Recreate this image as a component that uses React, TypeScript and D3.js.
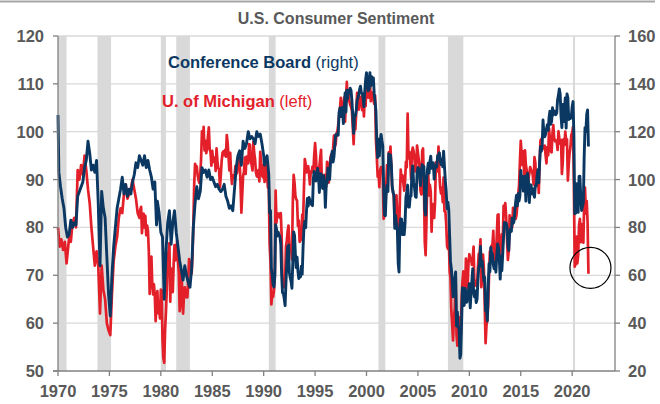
import React from "react";
import * as d3 from "d3";

// ---------- DATA ----------
const leftTicks = [50, 60, 70, 80, 90, 100, 110, 120];
const rightTicks = [20, 40, 60, 80, 100, 120, 140, 160];
const yearTicks = [1970, 1975, 1980, 1985, 1990, 1995, 2000, 2005, 2010, 2015, 2020];

const recessions: [string, string][] = [
  ["1969-12", "1970-11"], ["1973-11", "1975-03"], ["1980-01", "1980-07"], ["1981-07", "1982-11"],
  ["1990-07", "1991-03"], ["2001-03", "2001-11"], ["2007-12", "2009-06"], ["2020-02", "2020-04"],
];

// U. of Michigan (left axis), early survey readings
const michiganEarly: [string, number][] = [
  ["1970-01", 80], ["1970-03", 76], ["1970-05", 77.5], ["1970-07", 75.3], ["1970-09", 77], ["1970-11", 72.5],
  ["1971-02", 78], ["1971-04", 77], ["1971-06", 81], ["1971-08", 82], ["1971-10", 80], ["1971-12", 92],
  ["1972-02", 90], ["1972-04", 93], ["1972-06", 91], ["1972-08", 95], ["1972-10", 92], ["1972-12", 88],
  ["1973-02", 85], ["1973-04", 80], ["1973-06", 76], ["1973-08", 72], ["1973-10", 75], ["1973-12", 72],
  ["1974-02", 62], ["1974-04", 72], ["1974-06", 67], ["1974-08", 65], ["1974-10", 60], ["1974-12", 58.5],
  ["1975-02", 57.5], ["1975-04", 66], ["1975-06", 73], ["1975-08", 76], ["1975-10", 78], ["1975-12", 82],
  ["1976-02", 84], ["1976-04", 83], ["1976-06", 87], ["1976-08", 89], ["1976-10", 86], ["1976-12", 87],
  ["1977-02", 88], ["1977-04", 90], ["1977-06", 88], ["1977-08", 86], ["1977-10", 83], ["1977-12", 82],
];

// U. of Michigan monthly rows: [year, Jan..Dec]
const michiganMonthly: number[][] = [
  [1978, 83.7, 84.3, 78.8, 81.6, 82.9, 80.0, 82.4, 78.4, 80.4, 79.3, 75.0, 66.1],
  [1979, 72.1, 73.9, 68.4, 66.0, 68.1, 65.8, 60.4, 64.5, 66.7, 62.1, 63.3, 61.0],
  [1980, 67.0, 66.9, 56.5, 52.7, 51.7, 58.7, 62.3, 67.3, 73.7, 75.0, 76.7, 64.5],
  [1981, 71.4, 66.9, 66.5, 72.4, 76.3, 73.1, 74.1, 77.2, 73.1, 70.3, 62.5, 64.3],
  [1982, 71.0, 66.5, 62.0, 65.5, 67.5, 65.7, 65.4, 65.4, 69.3, 73.4, 72.1, 71.9],
  [1983, 70.4, 74.6, 80.8, 89.1, 93.3, 92.2, 92.8, 90.9, 89.9, 89.3, 91.1, 94.2],
  [1984, 100.1, 97.4, 101.0, 96.1, 98.1, 95.5, 96.6, 99.1, 100.9, 96.3, 95.7, 92.9],
  [1985, 96.0, 93.7, 93.7, 94.6, 91.8, 96.5, 94.0, 92.4, 92.1, 88.4, 90.9, 93.9],
  [1986, 95.6, 95.9, 95.1, 96.2, 94.8, 99.3, 97.7, 94.9, 91.9, 95.6, 91.4, 89.1],
  [1987, 90.9, 90.5, 90.4, 92.8, 91.1, 91.5, 93.7, 94.4, 93.6, 89.3, 83.1, 86.8],
  [1988, 90.8, 91.6, 94.6, 91.2, 94.8, 94.7, 93.4, 97.4, 97.3, 94.1, 93.0, 91.9],
  [1989, 97.9, 95.4, 94.3, 91.5, 90.7, 90.6, 92.0, 89.6, 95.8, 93.9, 90.9, 90.5],
  [1990, 93.0, 89.5, 91.3, 93.9, 90.6, 88.3, 88.2, 76.4, 72.8, 63.9, 66.0, 65.5],
  [1991, 66.8, 70.4, 87.7, 81.0, 82.9, 82.9, 82.9, 82.0, 83.0, 78.3, 69.1, 68.2],
  [1992, 67.5, 68.8, 76.0, 77.2, 79.2, 80.4, 76.6, 76.1, 75.6, 73.3, 85.3, 91.0],
  [1993, 89.3, 86.6, 85.9, 85.6, 80.3, 81.5, 77.0, 77.3, 77.9, 82.7, 81.2, 88.2],
  [1994, 94.3, 93.2, 91.5, 92.6, 92.8, 91.2, 89.0, 91.7, 91.5, 92.7, 91.6, 95.1],
  [1995, 97.6, 95.1, 90.3, 92.5, 89.8, 92.7, 94.4, 96.2, 88.9, 90.2, 88.2, 91.0],
  [1996, 89.3, 88.5, 93.7, 92.7, 89.4, 92.4, 94.7, 95.3, 94.7, 96.5, 99.2, 96.9],
  [1997, 97.4, 99.7, 100.0, 101.4, 103.2, 104.5, 107.1, 104.4, 106.0, 105.6, 107.2, 102.1],
  [1998, 106.6, 110.4, 106.5, 108.7, 106.5, 105.6, 105.2, 104.4, 100.9, 97.4, 102.7, 100.5],
  [1999, 103.9, 108.1, 105.7, 104.6, 106.8, 107.3, 106.0, 104.5, 107.2, 103.2, 107.2, 105.4],
  [2000, 112.0, 111.3, 107.1, 109.2, 110.7, 106.4, 108.3, 107.3, 106.8, 105.8, 107.6, 98.4],
  [2001, 94.7, 90.6, 91.5, 88.4, 92.0, 92.6, 92.4, 91.5, 81.8, 82.7, 83.9, 88.8],
  [2002, 93.0, 90.7, 95.7, 93.0, 96.9, 92.4, 88.1, 87.6, 86.1, 80.6, 84.2, 86.7],
  [2003, 82.4, 79.9, 77.6, 86.0, 92.1, 89.7, 90.9, 89.3, 87.7, 89.6, 93.7, 92.6],
  [2004, 103.8, 94.4, 95.8, 94.2, 90.2, 95.6, 96.7, 95.9, 94.2, 91.7, 92.8, 97.1],
  [2005, 95.5, 94.1, 92.6, 87.7, 86.9, 96.0, 96.5, 89.1, 76.9, 74.2, 81.6, 91.5],
  [2006, 91.2, 86.7, 88.9, 87.4, 79.1, 84.9, 84.7, 82.0, 85.4, 93.6, 92.1, 91.7],
  [2007, 96.9, 91.3, 88.4, 87.1, 88.3, 85.3, 90.4, 83.4, 83.4, 80.9, 76.1, 75.5],
  [2008, 78.4, 70.8, 69.5, 62.6, 59.8, 56.4, 61.2, 63.0, 70.3, 57.6, 55.3, 60.1],
  [2009, 61.2, 56.3, 57.3, 65.1, 68.7, 70.8, 66.0, 65.7, 73.5, 70.6, 67.4, 72.5],
  [2010, 74.4, 73.6, 73.6, 72.2, 73.6, 76.0, 67.8, 68.9, 68.2, 67.7, 71.6, 74.5],
  [2011, 74.2, 77.5, 67.5, 69.8, 74.3, 71.5, 63.7, 55.8, 59.5, 60.8, 63.7, 69.9],
  [2012, 75.0, 75.3, 76.2, 76.4, 79.3, 73.2, 72.3, 74.3, 78.3, 82.6, 82.7, 72.9],
  [2013, 73.8, 77.6, 78.6, 76.4, 84.5, 84.1, 85.1, 82.1, 77.5, 73.2, 75.1, 82.5],
  [2014, 81.2, 81.6, 80.0, 84.1, 81.9, 82.5, 81.8, 82.5, 84.6, 86.9, 88.8, 93.6],
  [2015, 98.1, 95.4, 93.0, 95.9, 90.7, 96.1, 93.1, 91.9, 87.2, 90.0, 91.3, 92.6],
  [2016, 92.0, 91.7, 91.0, 89.0, 94.7, 93.5, 90.0, 89.8, 91.2, 87.2, 93.8, 98.2],
  [2017, 98.5, 96.3, 96.9, 97.0, 97.1, 95.1, 93.4, 96.8, 95.1, 100.7, 98.5, 95.9],
  [2018, 95.7, 99.7, 101.4, 98.8, 98.0, 98.2, 97.9, 96.2, 100.1, 98.6, 97.5, 98.3],
  [2019, 91.2, 93.8, 98.4, 97.2, 100.0, 98.2, 98.4, 89.8, 93.2, 95.5, 96.8, 99.3],
  [2020, 99.8, 101.0, 89.1, 71.8, 72.3, 78.1, 72.5, 74.1, 80.4, 81.8, 76.9, 80.7],
  [2021, 79.0, 76.8, 84.9, 88.3, 82.9, 85.5, 81.2, 70.3],
];

// Conference Board (right axis), early readings
const boardEarly: [string, number][] = [
  ["1970-01", 127], ["1970-02", 103], ["1970-04", 97], ["1970-06", 92], ["1970-08", 88], ["1970-10", 80], ["1970-12", 76],
  ["1971-02", 77], ["1971-04", 83], ["1971-06", 80], ["1971-08", 82], ["1971-10", 81], ["1971-12", 93],
  ["1972-02", 95], ["1972-04", 97], ["1972-06", 99], ["1972-08", 105], ["1972-10", 108], ["1972-12", 116],
  ["1973-02", 111], ["1973-04", 104], ["1973-06", 106], ["1973-08", 103], ["1973-10", 108], ["1973-12", 90],
  ["1974-02", 64], ["1974-04", 95], ["1974-06", 88], ["1974-08", 84], ["1974-10", 68], ["1974-12", 52],
  ["1975-02", 43], ["1975-04", 60], ["1975-06", 72], ["1975-08", 80], ["1975-10", 88], ["1975-12", 92],
  ["1976-02", 96], ["1976-04", 101], ["1976-06", 94], ["1976-08", 98], ["1976-10", 93], ["1976-12", 96],
  ["1977-02", 94], ["1977-04", 99], ["1977-06", 102], ["1977-08", 107], ["1977-10", 105], ["1977-12", 110],
  ["1978-02", 108], ["1978-04", 106], ["1978-06", 110], ["1978-08", 105], ["1978-10", 108], ["1978-12", 104],
  ["1979-02", 101], ["1979-04", 96], ["1979-06", 99], ["1979-08", 81], ["1979-09", 91], ["1979-11", 86],
  ["1980-01", 78], ["1980-03", 76], ["1980-05", 50], ["1980-07", 70], ["1980-09", 82], ["1980-11", 87],
  ["1981-01", 73], ["1981-03", 82], ["1981-05", 87], ["1981-07", 78], ["1981-09", 72], ["1981-11", 66],
  ["1982-01", 62], ["1982-03", 58], ["1982-05", 64], ["1982-07", 60], ["1982-09", 57], ["1982-11", 55],
  ["1983-01", 63], ["1983-03", 80], ["1983-05", 90], ["1983-07", 97], ["1983-09", 92], ["1983-11", 95],
  ["1984-01", 105], ["1984-03", 103], ["1984-05", 104], ["1984-07", 101], ["1984-09", 104], ["1984-11", 100],
  ["1985-01", 101], ["1985-03", 99], ["1985-05", 97], ["1985-07", 98], ["1985-09", 96], ["1985-11", 95],
  ["1986-01", 96], ["1986-03", 98], ["1986-05", 93], ["1986-07", 91], ["1986-09", 88], ["1986-11", 89],
  ["1987-01", 87], ["1987-03", 96], ["1987-05", 105], ["1987-07", 110], ["1987-09", 112], ["1987-11", 106],
  ["1988-01", 116], ["1988-03", 113], ["1988-05", 115], ["1988-07", 120], ["1988-09", 117], ["1988-11", 118],
  ["1989-01", 117], ["1989-03", 115], ["1989-05", 120], ["1989-07", 118], ["1989-09", 119], ["1989-11", 115],
];

// Conference Board monthly rows: [year, Jan..Dec]
const boardMonthly: number[][] = [
  [1990, 110, 106, 109, 108, 110, 106, 102, 86, 87, 63, 60, 56],
  [1991, 55.1, 59.4, 81.1, 79.4, 76.4, 78.0, 77.0, 76.1, 72.9, 60.1, 52.7, 52.5],
  [1992, 50.2, 47.3, 56.5, 65.1, 71.9, 72.6, 61.2, 59.0, 57.3, 54.6, 65.6, 78.1],
  [1993, 76.7, 68.5, 63.2, 67.6, 61.9, 58.6, 59.2, 59.3, 63.8, 60.5, 71.9, 79.8],
  [1994, 82.6, 79.9, 86.7, 92.1, 88.9, 92.5, 91.3, 90.4, 89.5, 89.1, 100.4, 103.4],
  [1995, 101.4, 99.4, 100.2, 104.6, 102.0, 94.6, 101.4, 102.4, 97.3, 96.3, 101.6, 99.2],
  [1996, 88.4, 98.0, 98.4, 104.8, 103.5, 100.1, 107.0, 109.4, 111.8, 107.3, 109.5, 114.2],
  [1997, 118.7, 118.9, 118.5, 118.5, 127.9, 129.9, 126.3, 127.6, 130.2, 123.4, 128.1, 136.2],
  [1998, 128.3, 137.4, 133.8, 137.2, 136.3, 138.2, 137.2, 133.1, 126.4, 119.3, 126.4, 126.7],
  [1999, 128.9, 133.1, 134.0, 135.5, 137.7, 139.0, 136.2, 136.0, 134.2, 130.5, 137.0, 141.7],
  [2000, 144.7, 140.8, 137.1, 137.7, 144.7, 139.2, 143.0, 140.8, 142.5, 135.8, 132.6, 128.6],
  [2001, 115.7, 109.2, 116.9, 109.9, 116.1, 118.9, 116.3, 114.0, 97.0, 85.3, 84.9, 94.6],
  [2002, 97.8, 95.0, 110.7, 108.5, 110.3, 106.3, 97.4, 94.5, 93.7, 79.6, 84.9, 80.7],
  [2003, 78.8, 64.8, 61.4, 81.0, 83.6, 83.5, 77.0, 81.7, 77.0, 81.7, 92.5, 94.8],
  [2004, 97.7, 88.5, 88.5, 93.0, 93.1, 102.8, 105.7, 98.7, 96.7, 92.9, 92.6, 102.7],
  [2005, 105.1, 104.4, 103.0, 97.5, 103.1, 106.2, 103.6, 105.5, 87.5, 85.2, 98.3, 103.8],
  [2006, 106.8, 102.7, 107.5, 109.8, 104.7, 105.4, 107.0, 100.2, 105.9, 105.1, 105.3, 110.0],
  [2007, 110.2, 111.2, 108.2, 106.3, 108.5, 105.3, 111.9, 105.6, 99.5, 95.2, 87.8, 90.6],
  [2008, 87.3, 76.4, 65.9, 62.8, 58.1, 51.0, 51.9, 58.5, 61.4, 38.8, 44.7, 38.6],
  [2009, 37.4, 25.3, 26.9, 40.8, 54.8, 49.3, 47.4, 54.5, 53.4, 48.7, 50.6, 53.6],
  [2010, 56.5, 46.4, 52.3, 57.7, 62.7, 52.9, 51.0, 53.5, 48.6, 49.9, 57.8, 63.4],
  [2011, 64.8, 72.0, 63.8, 66.0, 61.7, 57.6, 59.2, 45.2, 46.4, 40.9, 55.2, 64.8],
  [2012, 61.5, 71.6, 69.5, 68.7, 64.4, 62.7, 65.4, 61.3, 68.4, 73.1, 71.5, 66.7],
  [2013, 58.4, 68.0, 61.9, 69.0, 76.2, 82.1, 81.0, 81.8, 80.2, 72.4, 70.4, 77.5],
  [2014, 79.4, 78.3, 83.9, 81.7, 82.2, 86.4, 90.3, 93.4, 89.0, 94.1, 91.0, 93.1],
  [2015, 103.8, 98.8, 101.4, 95.2, 95.4, 101.4, 91.0, 101.5, 102.6, 99.1, 90.4, 96.3],
  [2016, 97.8, 94.0, 96.2, 94.2, 92.6, 97.4, 97.3, 101.1, 104.1, 98.6, 107.1, 113.7],
  [2017, 111.8, 114.8, 124.9, 119.4, 117.9, 118.9, 121.1, 122.9, 120.6, 125.9, 128.6, 123.1],
  [2018, 124.3, 130.0, 127.0, 128.7, 128.0, 127.1, 127.9, 133.4, 135.3, 137.9, 135.7, 126.6],
  [2019, 121.7, 131.4, 124.2, 129.2, 134.1, 121.5, 135.8, 134.2, 125.1, 126.1, 125.5, 126.5],
  [2020, 130.4, 132.6, 118.8, 85.7, 85.9, 98.3, 91.7, 86.3, 101.3, 101.4, 92.9, 87.1],
  [2021, 88.9, 90.4, 109.0, 121.7, 120.0, 127.3, 129.1, 113.8],
];

// ---------- HELPERS ----------
type Pt = { date: Date; value: number };
const parseMonth = d3.timeParse("%Y-%m");
const fromPairs = (rows: [string, number][]): Pt[] =>
  rows.map(([d, v]) => ({ date: parseMonth(d) as Date, value: v }));
const fromRows = (rows: number[][]): Pt[] =>
  rows.flatMap((r) => r.slice(1).map((v, i) => ({ date: new Date(r[0], i, 1), value: v })));

const michigan: Pt[] = [...fromPairs(michiganEarly), ...fromRows(michiganMonthly)];
const board: Pt[] = [...fromPairs(boardEarly), ...fromRows(boardMonthly)];

const W = 660;
const H = 404;
const X0 = 58;
const X1 = 615;
const Y0 = 36;
const Y1 = 371;

const NAVY = "#0b3862";
const RED = "#e3202a";
const GRAY_TEXT = "#595959";
const AXIS = "#808080";
const FONT = "'Liberation Sans', Arial, Helvetica, sans-serif";

export default function App() {
  const start = new Date(1970, 0, 1);
  const end = new Date(2024, 2, 1);
  const x = d3.scaleTime().domain([start, end]).range([X0, X1]);
  const yL = d3.scaleLinear().domain([50, 120]).range([Y1, Y0]);
  const yR = d3.scaleLinear().domain([20, 160]).range([Y1, Y0]);

  const lineL = d3.line<Pt>().x((d) => x(d.date)).y((d) => yL(d.value));
  const lineR = d3.line<Pt>().x((d) => x(d.date)).y((d) => yR(d.value));

  const lastMich = michigan[michigan.length - 1];

  return (
    <svg width={W} height={H} style={{ position: "absolute", left: 0, top: 0, background: "#fff" }} fontFamily={FONT}>
      <line x1={0} x2={655} y1={1.5} y2={1.5} stroke="#a6a6a6" strokeWidth={2} />
      <text x={336} y={23.5} textAnchor="middle" fontSize={16} fontWeight="bold" fill={GRAY_TEXT}>
        U.S. Consumer Sentiment
      </text>

      {/* recession shading */}
      {recessions.map(([a, b], i) => {
        const s = d3.max([parseMonth(a) as Date, start]) as Date;
        const e = parseMonth(b) as Date;
        return (
          <rect key={i} x={x(s)} y={Y0} width={Math.max(x(e) - x(s), 2)} height={Y1 - Y0} fill="#d9d9d9" />
        );
      })}

      {/* gridlines */}
      {leftTicks.slice(1).map((t) => (
        <line key={t} x1={X0} x2={X1} y1={yL(t)} y2={yL(t)} stroke="#d9d9d9" strokeWidth={1.3} />
      ))}

      {/* series */}
      <path d={lineL(michigan) || ""} fill="none" stroke={RED} strokeWidth={2.7} strokeLinejoin="round" />
      <path d={lineR(board) || ""} fill="none" stroke={NAVY} strokeWidth={2.9} strokeLinejoin="round" />

      {/* left axis */}
      <line x1={X0} x2={X0} y1={Y0} y2={Y1} stroke={AXIS} strokeWidth={1.3} />
      {leftTicks.map((t) => (
        <g key={t}>
          <line x1={X0 - 5} x2={X0} y1={yL(t)} y2={yL(t)} stroke={AXIS} strokeWidth={1.3} />
          <text x={44} y={yL(t)} dy="0.36em" textAnchor="end" fontSize={16.5} fontWeight="bold" fill={GRAY_TEXT}>
            {t}
          </text>
        </g>
      ))}

      {/* right axis */}
      <line x1={X1} x2={X1} y1={Y0} y2={Y1} stroke={AXIS} strokeWidth={1.3} />
      {rightTicks.map((t) => (
        <g key={t}>
          <line x1={X1} x2={X1 + 5} y1={yR(t)} y2={yR(t)} stroke={AXIS} strokeWidth={1.3} />
          <text x={628} y={yR(t)} dy="0.36em" textAnchor="start" fontSize={16.5} fontWeight="bold" fill={GRAY_TEXT}>
            {t}
          </text>
        </g>
      ))}

      {/* bottom axis */}
      <line x1={X0 - 5} x2={X1} y1={Y1} y2={Y1} stroke={AXIS} strokeWidth={1.3} />
      {yearTicks.map((yr) => {
        const xx = x(new Date(yr, 0, 1));
        return (
          <g key={yr}>
            <line x1={xx} x2={xx} y1={Y1} y2={Y1 + 5} stroke={AXIS} strokeWidth={1.3} />
            <text x={xx} y={397} textAnchor="middle" fontSize={16.5} fontWeight="bold" fill={GRAY_TEXT}>
              {yr}
            </text>
          </g>
        );
      })}

      {/* legend labels */}
      <text x={168} y={67.5} fontSize={16.5} fill={NAVY}>
        <tspan fontWeight="bold">Conference Board</tspan>
        <tspan> (right)</tspan>
      </text>
      <text x={162} y={107} fontSize={16.5} fill={RED}>
        <tspan fontWeight="bold">U. of Michigan</tspan>
        <tspan> (left)</tspan>
      </text>

      {/* annotation circle around latest Michigan reading */}
      <circle cx={x(lastMich.date) + 2} cy={yL(lastMich.value) - 6} r={20.5} fill="none" stroke="#000" strokeWidth={1.2} />
    </svg>
  );
}
